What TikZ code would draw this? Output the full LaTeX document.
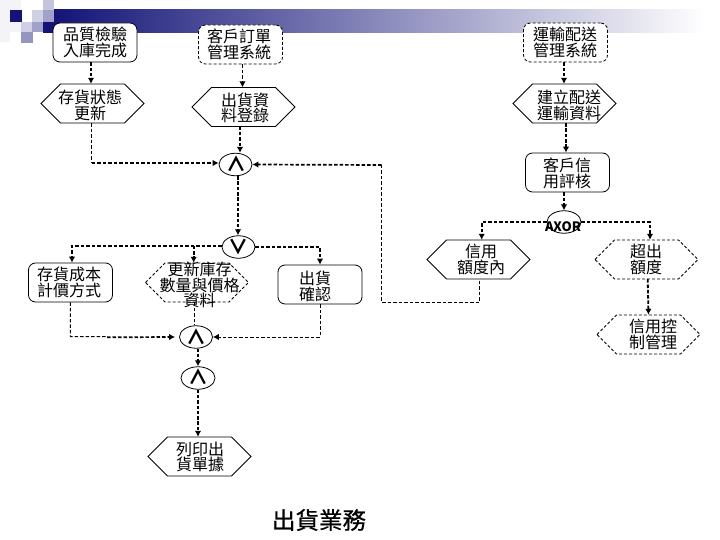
\documentclass[tikz,border=0pt]{standalone}
\usepackage{fontspec}
\setmainfont{Noto Sans CJK TC}
\newfontfamily\titlefont[FakeBold=0.6]{Noto Sans CJK TC}
\usetikzlibrary{shapes.geometric,arrows.meta}
\definecolor{navy}{RGB}{20,20,120}
\tikzset{
 x=1pt,y=-1pt,
 lbl/.style={font=\fontsize{16}{14.5}\selectfont,align=center,inner sep=0pt,text=black},
 rbox/.style={draw=black,line width=0.8pt,rounded corners=7pt,minimum width=84pt,minimum height=39pt,fill=white,inner sep=0pt},
 hexbox/.style={minimum width=103pt,minimum height=39pt,inner sep=0pt},
 gate/.style={draw=black,line width=0.8pt,ellipse,minimum width=33pt,minimum height=22.5pt,inner sep=0pt,fill=white},
 gatesign/.style={font=\fontsize{20}{20}\selectfont\bfseries,inner sep=0pt},
 finedash/.style={dash pattern=on 3pt off 2pt},
 flow/.style={draw=black,line width=1.8pt,dash pattern=on 3.5pt off 1.8pt,-{Latex[length=6pt,width=6.5pt]}},
 flowmid/.style={draw=black,line width=1.7pt,dash pattern=on 3.5pt off 2pt,-{Latex[length=6pt,width=6.5pt]}},
 flowthin/.style={draw=black,line width=1pt,dash pattern=on 3.5pt off 2pt,-{Latex[length=6pt,width=6.5pt]}},
 plainflow/.style={draw=black,line width=1pt,dash pattern=on 3.5pt off 2pt}
}
% [style]{x}{y}{name}
\newcommand{\hexnode}[4][]{%
 \node[hexbox] (#4) at (#2,#3) {};
 \draw[shift={(#2,#3)},#1,draw=black,line width=0.8pt] (-51.5,0) -- (-32,-19.5) -- (32,-19.5) -- (51.5,0) -- (32,19.5) -- (-32,19.5) -- cycle;}
\begin{document}
\begin{tikzpicture}
\useasboundingbox (0,0) rectangle (720,540);
\fill[white] (0,0) rectangle (720,540);
% template
\shade[left color=navy,right color=white] (54,10) rectangle (705,33);
\fill[navy!5] (0,0) rectangle (10,42);
\fill[navy!5] (10,0) rectangle (21,10);
\fill[navy!5] (10,22) rectangle (21,32);
\fill[navy!25] (43,0) rectangle (54,10);
\fill[navy!20] (32,10) rectangle (43,22);
\fill[navy!40] (43,10) rectangle (54,22);
\fill[navy!20] (21,22) rectangle (32,32);
\fill[navy!40] (32,22) rectangle (43,32);
\fill[navy] (43,22) rectangle (54,33);
\fill[navy!45] (21,32) rectangle (33,43);
\fill[navy] (10,10) rectangle (22,22);
% boxes
\node[rbox] (qc) at (95,42.5) {};
\node[rbox,finedash] (order) at (240.5,44.5) {};
\node[rbox,finedash] (ship) at (565.5,42.5) {};
\node[rbox] (credit) at (567.5,172.5) {};
\node[rbox] (cost) at (70.5,282.5) {};
\node[rbox] (conf) at (320,284.5) {};
\hexnode{92.5}{103.5}{stock}
\hexnode{243.5}{107}{reg}
\hexnode{564.5}{103.5}{est}
\hexnode{478.5}{259.5}{within}
\hexnode[finedash]{646.5}{259.5}{over}
\hexnode[finedash]{648.5}{334.5}{ctrl}
\hexnode[finedash]{197}{282.5}{upd}
\hexnode{199.5}{456.5}{print}
% gates
\node[gate] (and1) at (235.5,164.5) {};
\node[gate] (or1) at (238.5,247) {};
\node[gate] (and2) at (196,337) {};
\node[gate,minimum width=34pt] (and3) at (198,378) {};
\node[draw=black,line width=0.8pt,ellipse,minimum width=34pt,minimum height=22.5pt,inner sep=0pt] (axor) at (564,222) {};
% connectors
\draw[flow] ([xshift=-4pt]qc.south) -- ([xshift=-1.5pt]stock.north);
\draw[flowthin] ([xshift=2pt]order.south) -- ([xshift=-1pt]reg.north);
\draw[flow] ([xshift=-3.5pt]reg.south) -- ([xshift=4.5pt]and1.north);
\coordinate (turn1) at (91.5,163);
\draw[plainflow] ([xshift=-1pt]stock.south) -- (turn1);
\draw[flowmid] (turn1) -- ([yshift=1.5pt]and1.west);
\coordinate (turn2) at (381.5,165);
\draw[flowmid] (turn2) -- (and1.east);
\coordinate (turn3) at (381.5,302);
\draw[plainflow] (turn2) -- (turn3) -| ([xshift=1pt]within.south);
\draw[flow] ([xshift=2.5pt]and1.south) -- ([xshift=-.5pt]or1.north);
\coordinate (turn4) at (72,245.7);
\draw[flowmid] ([yshift=1.3pt]or1.west) -- (turn4) -- ([xshift=1.5pt]cost.north);
\draw[flow] (193.7,245.7) -- ([xshift=-3.3pt]upd.north);
\draw[flowthin,line width=1.3pt] (or1.east) -| (conf.north);
\coordinate (turn5) at (70.3,336.7);
\draw[plainflow] (cost.south) -- (turn5) -- (107,336.7);
\draw[flowmid] (107,337.3) -- ([xshift=-4pt]and2.west);
\draw[plainflow] ([xshift=-2.3pt]upd.south) -- ([xshift=-1.3pt]and2.north);
\draw[flowthin] (conf.south) |- (and2.east);
\draw[flow] ([xshift=2pt]and2.south) -- (and3.north);
\draw[flow] (and3.south) -- ([xshift=-1.5pt]print.north);
\draw[flow] ([xshift=-1.5pt]ship.south) -- ([xshift=-.5pt]est.north);
\draw[flow] ([xshift=1.5pt]est.south) -- ([xshift=-1.5pt]credit.north);
\draw[flow] ([xshift=-3.5pt]credit.south) -- (axor.north);
\draw[flowmid] (axor.west) -| ([xshift=3.2pt]within.north);
\draw[flowmid] (axor.east) -| ([xshift=3.5pt]over.north);
\draw[flow] ([xshift=1.2pt]over.south) -- (ctrl.north);
% texts
\node[lbl] at (95,42.5) {品質檢驗\\入庫完成};
\node[lbl] at (239,44.5) {客戶訂單\\管理系統};
\node[lbl] at (565,42.5) {運輸配送\\管理系統};
\node[lbl] at (567,173) {客戶信\\用評核};
\node[lbl] at (69,282) {存貨成本\\計價方式};
\node[lbl] at (315,286) {出貨\\確認};
\node[lbl] at (90,105) {存貨狀態\\更新};
\node[lbl] at (245,108) {出貨資\\料登錄};
\node[lbl] at (569,105.5) {建立配送\\運輸資料};
\node[lbl] at (481,259.5) {信用\\額度內};
\node[lbl] at (646,259.5) {超出\\額度};
\node[lbl] at (653,334.5) {信用控\\制管理};
\node[lbl,font=\fontsize{16}{13.2}\selectfont] at (199.5,285) {更新庫存\\數量與價格\\資料};
\node[lbl] at (200,457) {列印出\\貨單據};
\node[gatesign] at (236,164) {∧};
\node[gatesign] at (238,247) {∨};
\node[gatesign] at (196,337) {∧};
\node[gatesign] at (198,377) {∧};
\node[font=\fontsize{13}{13}\selectfont\bfseries,inner sep=0pt] at (563,227) {AXOR};
\node[font=\titlefont\fontsize{23.5}{23.5}\selectfont,inner sep=0pt] at (319,520) {出貨業務};
\end{tikzpicture}
\end{document}
